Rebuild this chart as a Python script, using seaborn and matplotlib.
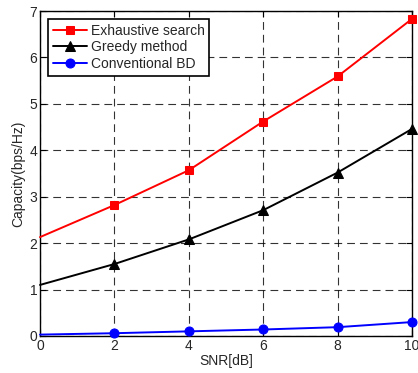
import matplotlib
matplotlib.use("Agg")
import matplotlib.pyplot as plt
import seaborn as sns
import pandas as pd

snr = [0, 2, 4, 6, 8, 10]
exhaustive = [2.13, 2.82, 3.57, 4.62, 5.59, 6.83]
greedy = [1.10, 1.55, 2.08, 2.71, 3.52, 4.46]
conventional = [0.03, 0.06, 0.10, 0.14, 0.19, 0.30]
series_names = ["Exhaustive search", "Greedy method", "Conventional BD"]
colors = ["#ff0000", "#000000", "#0000ff"]
markers = ["s", "^", "o"]
msizes = [6, 6.5, 6.5]
xticks = [0, 2, 4, 6, 8, 10]
yticks = [0, 1, 2, 3, 4, 5, 6, 7]

sns.set_style("white")
plt.rcParams["font.family"] = ["Liberation Sans", "DejaVu Sans"]

df = pd.DataFrame({"SNR": snr * 3,
                   "Capacity": exhaustive + greedy + conventional,
                   "Method": sum([[n] * len(snr) for n in series_names], [])})

fig = plt.figure(figsize=(4.18, 3.73), dpi=100)
ax = fig.add_axes([0.0957, 0.0992, 0.8899, 0.8713])

for name, c, m, ms in zip(series_names, colors, markers, msizes):
    sub = df[df["Method"] == name]
    sns.lineplot(data=sub, x="SNR", y="Capacity", ax=ax, color=c, marker=m,
                 markersize=ms, markeredgecolor=c, markerfacecolor=c,
                 linewidth=1.4, label=name, markevery=[1, 2, 3, 4, 5],
                 clip_on=False, zorder=3)

ax.set_xlim(0, 10)
ax.set_ylim(0, 7)
ax.set_xticks(xticks)
ax.set_yticks(yticks)
ax.grid(True, color="black", linestyle=(0, (7, 4.5)), linewidth=0.8, alpha=0.8)
for s in ax.spines.values():
    s.set_color("black")
    s.set_linewidth(1.0)
ax.tick_params(direction="in", length=4, color="black", labelsize=10, pad=2,
               top=True, right=True, bottom=True, left=True)
ax.set_xlabel("SNR[dB]", fontsize=10, labelpad=1)
ax.set_ylabel("Capacity(bps/Hz)", fontsize=10, labelpad=3)

leg = ax.legend(loc="upper left", fontsize=10, frameon=True, fancybox=False,
                borderpad=0.35, handlelength=2.5, handletextpad=0.25,
                labelspacing=0.2, borderaxespad=0.55)
leg.get_frame().set_edgecolor("black")
leg.get_frame().set_linewidth(1.2)
leg.get_frame().set_alpha(1)

fig.savefig("out.png", dpi=100)
